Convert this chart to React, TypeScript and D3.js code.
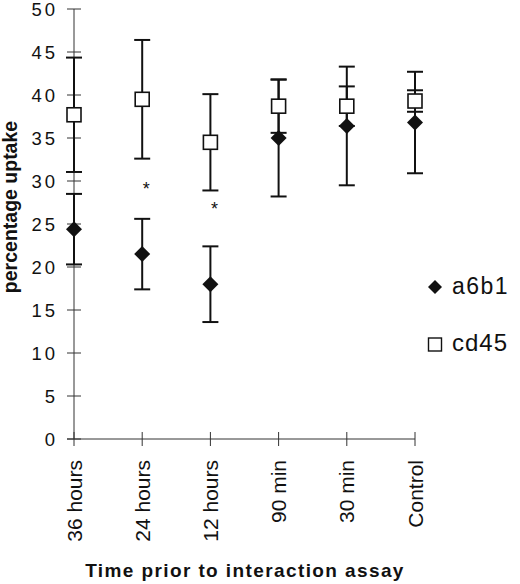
import * as d3 from "d3";

const categories = ["36 hours", "24 hours", "12 hours", "90 min", "30 min", "Control"];

// a6b1 (filled diamonds)
const a6b1Mean = [24.4, 21.5, 18.0, 35.0, 36.4, 36.8];
const a6b1Err = [4.1, 4.1, 4.4, 6.8, 6.9, 5.9];

// cd45 (open squares)
const cd45Mean = [37.7, 39.5, 34.5, 38.7, 38.7, 39.3];
const cd45Err = [6.65, 6.9, 5.6, 3.1, 2.3, 1.25];

// significance markers
const starCats = ["24 hours", "12 hours"];
const starValues = [29.3, 27.0];

const yTicks = [0, 5, 10, 15, 20, 25, 30, 35, 40, 45, 50];

const W = 520;
const H = 584;
const FONT = "'Liberation Sans', Arial, Helvetica, sans-serif";

export default function App() {
  const x = d3.scalePoint<string>().domain(categories).range([74, 415]);
  const y = d3.scaleLinear().domain([0, 50]).range([439, 9]);

  const cap = 8;
  const ink = "#111";

  const errBar = (cx: number, m: number, e: number, key: string) => (
    <g key={key} stroke={ink} strokeWidth={2}>
      <line x1={cx} x2={cx} y1={y(m + e)} y2={y(m - e)} />
      <line x1={cx - cap} x2={cx + cap} y1={y(m + e)} y2={y(m + e)} />
      <line x1={cx - cap} x2={cx + cap} y1={y(m - e)} y2={y(m - e)} />
    </g>
  );

  const diamond = (cx: number, cy: number, r: number) =>
    `M${cx},${cy - r}L${cx + r},${cy}L${cx},${cy + r}L${cx - r},${cy}Z`;

  return (
    <svg
      width={W}
      height={H}
      style={{ position: "absolute", left: 0, top: 0, background: "#fff" }}
      fontFamily={FONT}
    >
      {/* y axis */}
      <line x1={x(categories[0])!} x2={x(categories[0])!} y1={y(0)} y2={y(50)} stroke="#333" strokeWidth={1} />
      {yTicks.map((t) => (
        <g key={t}>
          <line x1={67} x2={81} y1={y(t)} y2={y(t)} stroke="#333" strokeWidth={1} />
          <text x={58} y={y(t) + 6.5} textAnchor="end" fontSize={18.5} letterSpacing={3} fill={ink}>
            {t}
          </text>
        </g>
      ))}

      {/* x axis */}
      <line x1={67} x2={x(categories[categories.length - 1])!} y1={y(0)} y2={y(0)} stroke="#333" strokeWidth={1} />
      {categories.map((c) => (
        <g key={c}>
          <line x1={x(c)!} x2={x(c)!} y1={y(0) - 7} y2={y(0) + 7} stroke="#333" strokeWidth={1} />
          <text
            transform={`translate(${x(c)! + 7.5},460) rotate(-90)`}
            textAnchor="end"
            fontSize={21}
            fill={ink}
          >
            {c}
          </text>
        </g>
      ))}

      {/* error bars */}
      {categories.map((c, i) => errBar(x(c)!, a6b1Mean[i], a6b1Err[i], `ea${i}`))}
      {categories.map((c, i) => errBar(x(c)!, cd45Mean[i], cd45Err[i], `ec${i}`))}

      {/* markers */}
      {categories.map((c, i) => (
        <path key={`a${i}`} d={diamond(x(c)!, y(a6b1Mean[i]), 8)} fill={ink} />
      ))}
      {categories.map((c, i) => (
        <rect
          key={`c${i}`}
          x={x(c)! - 7}
          y={y(cd45Mean[i]) - 7}
          width={14}
          height={14}
          fill="#fff"
          stroke={ink}
          strokeWidth={1.6}
        />
      ))}

      {/* asterisks */}
      {starCats.map((c, i) => (
        <text key={c} x={x(c)! + 4} y={y(starValues[i]) + 8} textAnchor="middle" fontSize={18} fill={ink}>
          *
        </text>
      ))}

      {/* axis titles */}
      <text
        transform={`translate(17,207) rotate(-90)`}
        textAnchor="middle"
        fontSize={19.5}
        fontWeight="bold"
        fill={ink}
      >
        percentage uptake
      </text>
      <text x={245} y={577} textAnchor="middle" fontSize={19} fontWeight="bold" letterSpacing={1.4} fill={ink}>
        Time prior to interaction assay
      </text>

      {/* legend */}
      <path d={diamond(435, 287, 7)} fill={ink} />
      <text x={452} y={294} fontSize={23} letterSpacing={1.5} fill={ink}>
        a6b1
      </text>
      <rect x={428.5} y={338} width={13} height={13} fill="#fff" stroke={ink} strokeWidth={1.4} />
      <text x={452} y={351} fontSize={24} letterSpacing={1} fill={ink}>
        cd45
      </text>
    </svg>
  );
}
